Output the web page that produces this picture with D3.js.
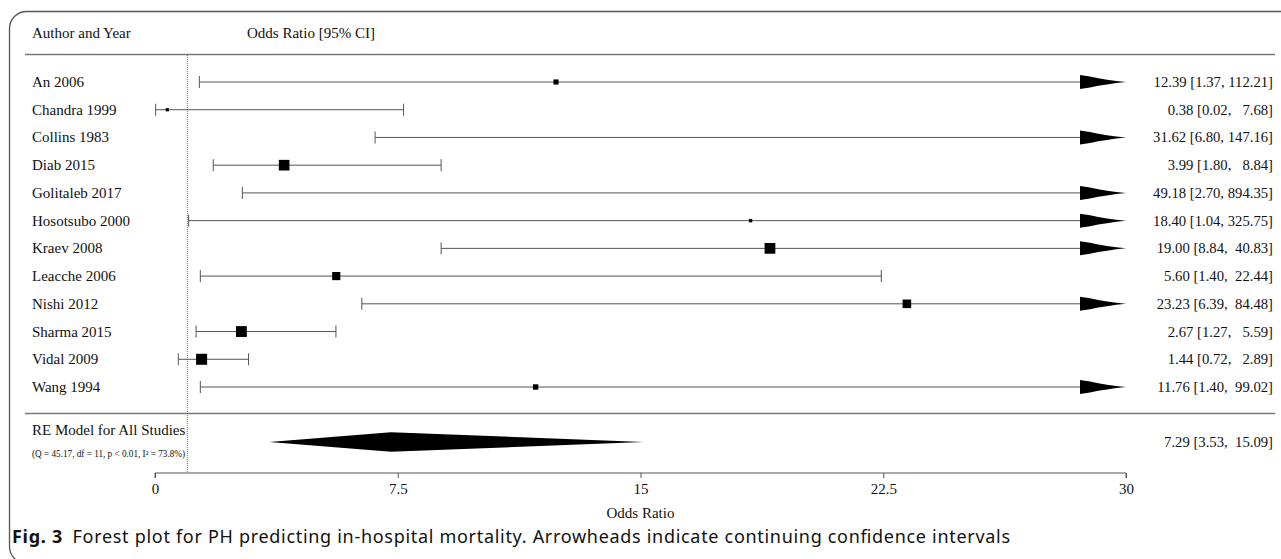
<!DOCTYPE html>
<html>
<head>
<meta charset="utf-8">
<script src="https://cdn.jsdelivr.net/npm/d3@7"></script>
<style>
  body { margin: 0; background: #fff; }
  text { font-family: "Liberation Serif", "Times New Roman", serif; fill: #111; }
</style>
</head>
<body>
<div id="forest"></div>
<script>
// study data
var studies = ["An 2006", "Chandra 1999", "Collins 1983", "Diab 2015", "Golitaleb 2017",
  "Hosotsubo 2000", "Kraev 2008", "Leacche 2006", "Nishi 2012", "Sharma 2015",
  "Vidal 2009", "Wang 1994"];
var estimates = [12.39, 0.38, 31.62, 3.99, 49.18, 18.40, 19.00, 5.60, 23.23, 2.67, 1.44, 11.76];
var lowers = [1.37, 0.02, 6.80, 1.80, 2.70, 1.04, 8.84, 1.40, 6.39, 1.27, 0.72, 1.40];
var uppers = [112.21, 7.68, 147.16, 8.84, 894.35, 325.75, 40.83, 22.44, 84.48, 5.59, 2.89, 99.02];

// random effects summary
var summary = { label: "RE Model for All Studies", est: 7.29, lo: 3.53, hi: 15.09 };
var hetText = "(Q = 45.17, df = 11, p < 0.01, I\u00b2 = 73.8%)";

var xTicks = [0, 7.5, 15, 22.5, 30];
var xLabels = ["0", "7.5", "15", "22.5", "30"];

var W = 1281, H = 559;

var svg = d3.select("#forest").append("svg")
  .attr("width", W)
  .attr("height", H);

// frame round the figure
svg.append("rect")
  .attr("x", 9.5).attr("y", 11.5)
  .attr("width", 1320).attr("height", 552)
  .attr("rx", 17).attr("ry", 17)
  .attr("fill", "none")
  .attr("stroke", "#555")
  .attr("stroke-width", 1.3);

var x = d3.scaleLinear().domain([0, 30]).range([155, 1126]);
var y = d3.scaleLinear().domain([0, studies.length - 1]).range([82, 387]);
var ySum = 442;
var axisY = 473;

var fmt = function (v) { return v.toFixed(2); };
function ciText(e, l, u) {
  return fmt(e) + " [" + fmt(l) + ", " + fmt(u).padStart(6, " ") + "]";
}

// header
svg.append("text").attr("x", 32).attr("y", 38).style("font-size", "15px").text("Author and Year");
svg.append("text").attr("x", 247).attr("y", 38).style("font-size", "15px").text("Odds Ratio [95% CI]");

svg.append("line")
  .attr("x1", 25).attr("x2", 1275)
  .attr("y1", 54.5).attr("y2", 54.5)
  .attr("stroke", "#777").attr("stroke-width", 1.4);
svg.append("line")
  .attr("x1", 25).attr("x2", 1275)
  .attr("y1", 413.5).attr("y2", 413.5)
  .attr("stroke", "#777").attr("stroke-width", 1.4);

// reference line at OR = 1
svg.append("line")
  .attr("x1", x(1)).attr("x2", x(1))
  .attr("y1", 55).attr("y2", axisY)
  .attr("stroke", "#777").attr("stroke-width", 1)
  .attr("stroke-dasharray", "1,1");

// square sizes from random-effects weights (log scale, DL tau^2)
var vi = lowers.map(function (l, i) {
  var se = (Math.log(uppers[i]) - Math.log(l)) / 3.92;
  return se * se;
});
var wf = vi.map(function (v) { return 1 / v; });
var yi = estimates.map(Math.log);
var sw = d3.sum(wf);
var ybar = d3.sum(yi.map(function (v, i) { return v * wf[i]; })) / sw;
var Q = d3.sum(yi.map(function (v, i) { return wf[i] * (v - ybar) * (v - ybar); }));
var C = sw - d3.sum(wf.map(function (w) { return w * w; })) / sw;
var tau2 = Math.max(0, (Q - (studies.length - 1)) / C);
var wts = vi.map(function (v) { return 1 / (v + tau2); });
var size = d3.scaleLinear().domain(d3.extent(wts)).range([3.2, 11]);

var xmin = x.domain()[0], xmax = x.domain()[1];

var rows = svg.selectAll(".study")
  .data(studies.map(function (s, i) { return { name: s, i: i, est: estimates[i], lo: lowers[i], hi: uppers[i], w: wts[i] }; }))
  .enter().append("g")
  .attr("class", "study");

rows.append("text")
  .attr("x", 32)
  .attr("y", function (d) { return y(d.i) + 5; })
  .style("font-size", "15px")
  .text(function (d) { return d.name; });

rows.append("line")
  .attr("x1", function (d) { return x(Math.max(d.lo, xmin)); })
  .attr("x2", function (d) { return d.hi > xmax ? x(xmax) - 40 : x(d.hi); })
  .attr("y1", function (d) { return y(d.i); })
  .attr("y2", function (d) { return y(d.i); })
  .attr("stroke", "#555").attr("stroke-width", 1);

// left caps
rows.filter(function (d) { return d.lo >= xmin; })
  .append("line")
  .attr("x1", function (d) { return x(d.lo); })
  .attr("x2", function (d) { return x(d.lo); })
  .attr("y1", function (d) { return y(d.i) - 6; })
  .attr("y2", function (d) { return y(d.i) + 6; })
  .attr("stroke", "#555").attr("stroke-width", 1);

// right caps
rows.filter(function (d) { return d.hi <= xmax; })
  .append("line")
  .attr("x1", function (d) { return x(d.hi); })
  .attr("x2", function (d) { return x(d.hi); })
  .attr("y1", function (d) { return y(d.i) - 6; })
  .attr("y2", function (d) { return y(d.i) + 6; })
  .attr("stroke", "#555").attr("stroke-width", 1);

// arrowheads for intervals that run past the axis
rows.filter(function (d) { return d.hi > xmax; })
  .append("path")
  .attr("d", function (d) {
    var cy = y(d.i);
    var tip = x(xmax), base = tip - 46;
    return "M" + base + "," + (cy - 7) +
      "L" + (base + 10) + "," + (cy - 5.5) +
      "Q" + (base + 26) + "," + (cy - 2) + " " + tip + "," + cy +
      "Q" + (base + 26) + "," + (cy + 2) + " " + (base + 10) + "," + (cy + 5.5) +
      "L" + base + "," + (cy + 7) + "Z";
  })
  .attr("fill", "#000");

// point estimates
rows.filter(function (d) { return d.est <= xmax; })
  .append("rect")
  .attr("x", function (d) { return x(d.est) - size(d.w) / 2; })
  .attr("y", function (d) { return y(d.i) - size(d.w) / 2; })
  .attr("width", function (d) { return size(d.w); })
  .attr("height", function (d) { return size(d.w); })
  .attr("fill", "#000");

// right column text
rows.append("text")
  .attr("x", 1273)
  .attr("y", function (d) { return y(d.i) + 5; })
  .attr("text-anchor", "end")
  .attr("xml:space", "preserve")
  .style("white-space", "pre")
  .style("font-size", "14.7px")
  .text(function (d) { return ciText(d.est, d.lo, d.hi); });

// summary diamond
var dh = 9.7;
var diamond = [[x(summary.lo), ySum], [x(summary.est), ySum - dh], [x(summary.hi), ySum], [x(summary.est), ySum + dh]];
svg.append("path")
  .attr("d", d3.line()(diamond) + "Z")
  .attr("fill", "#000");

svg.append("text").attr("x", 32).attr("y", 435).style("font-size", "15px").text(summary.label);

svg.append("text").attr("x", 32).attr("y", 457).style("font-size", "9.5px")
  .attr("textLength", 153).attr("lengthAdjust", "spacingAndGlyphs")
  .text(hetText);

svg.append("text")
  .attr("x", 1273).attr("y", ySum + 5)
  .attr("text-anchor", "end")
  .attr("xml:space", "preserve")
  .style("white-space", "pre")
  .style("font-size", "14.7px")
  .text(ciText(summary.est, summary.lo, summary.hi));

// x axis
var axis = svg.append("g")
  .attr("transform", "translate(0," + axisY + ")")
  .call(d3.axisBottom(x).tickValues(xTicks).tickSize(5).tickPadding(5)
    .tickFormat(function (d, i) { return xLabels[i]; }));
axis.select(".domain").attr("stroke", "#555").attr("d", "M" + x(0) + ",5V0H" + x(30) + "V5");
axis.selectAll(".tick line").attr("stroke", "#555");
axis.selectAll(".tick text")
  .style("font-family", "'Liberation Serif', serif")
  .style("font-size", "15px")
  .attr("fill", "#111");

svg.append("text")
  .attr("x", (x(0) + x(30)) / 2).attr("y", 518)
  .attr("text-anchor", "middle")
  .style("font-size", "15px")
  .text("Odds Ratio");

// caption
var cap = svg.append("text").attr("x", 12).attr("y", 543)
  .style("font-family", "'Noto Sans', sans-serif")
  .style("font-size", "18px")
  .attr("textLength", 998).attr("lengthAdjust", "spacing");
cap.append("tspan").style("font-weight", "bold").text("Fig. 3");
cap.append("tspan")
  .text("\u2002Forest plot for PH predicting in-hospital mortality. Arrowheads indicate continuing confidence intervals");
</script>
</body>
</html>
